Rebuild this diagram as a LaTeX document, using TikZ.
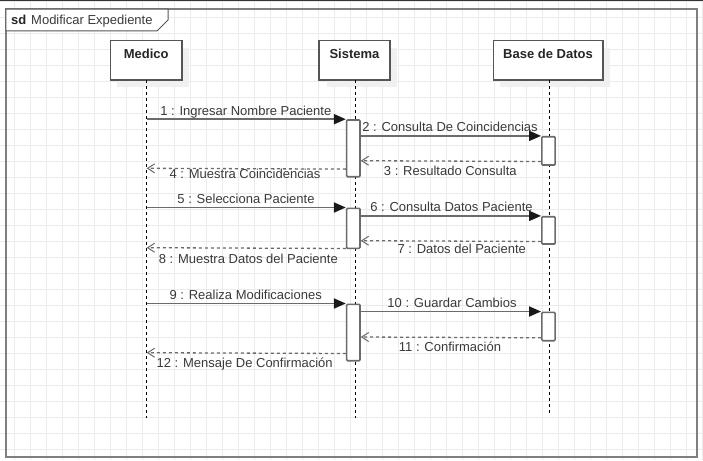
\documentclass[tikz,border=0pt]{standalone}
\usepackage{fontspec}
\setmainfont{Liberation Sans}
\usetikzlibrary{arrows.meta,calc}
\definecolor{gridc}{HTML}{EBEBEB}
\definecolor{framec}{HTML}{7F7F7F}
\definecolor{linec}{HTML}{6B6B6B}
\definecolor{boxc}{HTML}{555555}
\definecolor{txtc}{HTML}{3A3A3A}
\definecolor{shadowc}{HTML}{F0F0F0}
\definecolor{topc}{HTML}{333333}
\tikzset{
  lifebox/.style={draw=boxc, line width=1.6pt, fill=white, inner sep=0pt,
    text height=9.5pt, text depth=13.7pt, minimum height=39.3pt,
    font=\fontsize{13}{15}\selectfont\bfseries, text=black!85},
  actbar/.style={draw=linec, line width=1.6pt, fill=white, rounded corners=1pt,
    minimum width=13.3pt, inner sep=0pt},
  lifeline/.style={black, line width=1pt, dash pattern=on 3pt off 3pt},
  syncmsg/.style={linec, line width=1.8pt,
    -{Triangle[length=12pt,width=10pt,color=black!90]}},
  retmsg/.style={linec, line width=1.3pt, dash pattern=on 3pt off 3pt,
    -{Straight Barb[length=7pt,width=9pt,line width=1pt]}},
  msglabel/.style={anchor=base, inner sep=0pt, text=txtc,
    font=\fontsize{13}{15}\selectfont},
}
\begin{document}
\begin{tikzpicture}[x=1pt,y=-1pt]
\useasboundingbox (0,0) rectangle (703,460);
\fill[white] (0,0) rectangle (703,460);
% grid
\foreach \gx in {14.5,30.5,...,702.5} \draw[gridc,line width=1pt] (\gx,0) -- (\gx,460);
\foreach \gy in {1.7,17.7,...,460} \draw[gridc,line width=1pt] (0,\gy) -- (703,\gy);
% top edge line
\draw[topc,line width=1pt] (0,0.5) -- (703,0.5);
% frame
\draw[framec,line width=1.7pt] (5.8,9.2) rectangle (697.2,457);
\draw[boxc,line width=1pt,fill=white] (5.8,9.2) -- (168,9.2) -- (168,20) -- (157,31) -- (5.8,31) -- cycle;
\node[anchor=base west,inner sep=0pt,text=black!85,font=\fontsize{13}{15}\selectfont\bfseries] (sdlbl) at (11,25) {sd};
\node[anchor=base west,inner sep=0pt,text=txtc,font=\fontsize{13}{15}\selectfont] (title) at (31,25) {Modificar Expediente};
% shadows
\fill[shadowc] (117,47.7) rectangle (188.7,87);
\fill[shadowc] (326.5,47.7) rectangle (397,87);
\fill[shadowc] (500.3,47.7) rectangle (609.7,87);
% lifeline heads
\node[lifebox, minimum width=71.5pt] (medico) at (146.2,60.35) {Medico};
\node[lifebox, minimum width=71pt] (sistema) at (354.5,60.35) {Sistema};
\node[lifebox, minimum width=109.4pt] (base) at (548,60.35) {Base de Datos};
% lifelines
\coordinate (mL) at (146.7,80);
\coordinate (sL) at (355,80);
\coordinate (bL) at (549.3,80);
\coordinate (mEnd) at (146.7,418.3);
\coordinate (sEnd) at (355,418.3);
\coordinate (bEnd) at (549.3,413.3);
\draw[lifeline] (mL) -- (mEnd);
\draw[lifeline] (sL) -- (sEnd);
\draw[lifeline] (bL) -- (bEnd);
% activation bars
\node[actbar, minimum height=56.7pt] (sA1) at (353.3,148.35) {};
\node[actbar, minimum height=28.3pt] (bA1) at (548.5,150.85) {};
\node[actbar, minimum height=40pt] (sA2) at (353.3,228.3) {};
\node[actbar, minimum height=27.3pt] (bA2) at (548.5,230.35) {};
\node[actbar, minimum height=56.4pt] (sA3) at (353.3,332.5) {};
\node[actbar, minimum height=28.4pt] (bA3) at (548.5,326.5) {};
% messages
\draw[syncmsg] (mL |- sA1.north west) -- (sA1.north west);
\draw[syncmsg] (sA1.east |- bA1.north west) -- (bA1.north west);
\draw[retmsg] ($(bA1.south west)+(0,-4.3)$) -- (sA1.east |- 0,160.7);
\draw[retmsg] ($(sA1.south west)+(0,-8.4)$) -- (mL |- 0,168.3);
\draw[syncmsg] (mL |- sA2.north west) -- (sA2.north west);
\draw[syncmsg] (sA2.east |- bA2.north west) -- (bA2.north west);
\draw[retmsg] ($(bA2.south west)+(0,-3.3)$) -- (sA2.east |- 0,240.7);
\draw[retmsg] ($(sA2.south west)+(0,-0.6)$) -- (mL |- 0,247.7);
\draw[syncmsg] (mL |- sA3.north west) -- (sA3.north west);
\draw[syncmsg] (sA3.east |- bA3.north west) -- (bA3.north west);
\draw[retmsg] ($(bA3.south west)+(0,-3.7)$) -- (sA3.east |- 0,337);
\draw[retmsg] ($(sA3.south west)+(0,-8)$) -- (mL |- 0,352.7);
% labels
\node[msglabel] (l1) at (245.8,115) {1 : Ingresar Nombre Paciente};
\node[msglabel] (l2) at (450,131.5) {2 : Consulta De Coincidencias};
\node[msglabel] (l3) at (450.3,175.5) {3 : Resultado Consulta};
\node[msglabel] (l4) at (245,178.7) {4 : Muestra Coincidencias};
\node[msglabel] (l5) at (246,203.3) {5 : Selecciona Paciente};
\node[msglabel] (l6) at (451.5,211.7) {6 : Consulta Datos Paciente};
\node[msglabel] (l7) at (461.7,253.3) {7 : Datos del Paciente};
\node[msglabel] (l8) at (248.3,263.3) {8 : Muestra Datos del Paciente};
\node[msglabel] (l9) at (245.7,299) {9 : Realiza Modificaciones};
\node[msglabel] (l10) at (452,307.5) {10 : Guardar Cambios};
\node[msglabel] (l11) at (450,351.5) {11 : Confirmación};
\node[msglabel] (l12) at (244.7,367) {12 : Mensaje De Confirmación};
\end{tikzpicture}
\end{document}
